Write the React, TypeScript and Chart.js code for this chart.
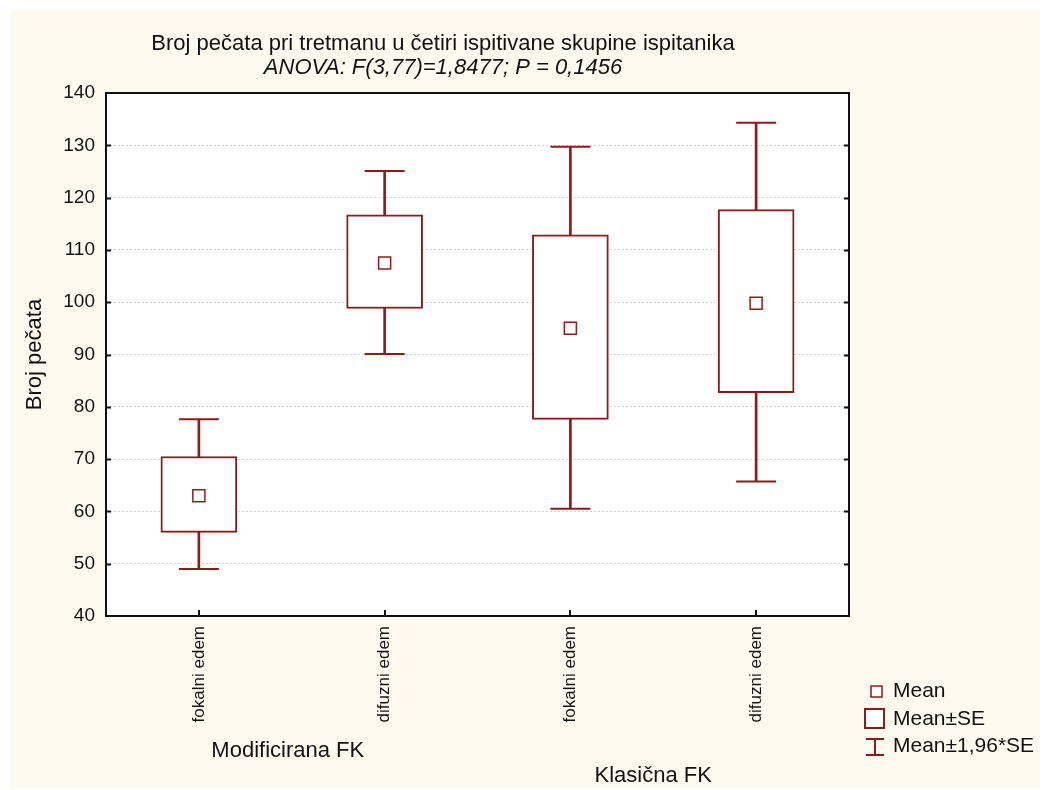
import React, { useEffect, useRef } from 'react';
import { Chart, registerables } from 'chart.js';

Chart.register(...registerables);

// ---- data ----
const categories = ['fokalni edem', 'difuzni edem', 'fokalni edem', 'difuzni edem'];
const groupLabels = ['Modificirana FK', 'Klasična FK'];
const means = [63.0, 107.5, 95.0, 99.8];
const seLow = [56.0, 98.8, 77.6, 82.7];
const seHigh = [70.5, 116.7, 112.9, 117.7];
const ciLow = [49.0, 90.1, 60.5, 65.7];
const ciHigh = [77.6, 125.1, 129.7, 134.3];
const yMin = 40;
const yMax = 140;
const yStep = 10;
const titleLine1 = 'Broj pečata pri tretmanu u četiri ispitivane skupine ispitanika';
const titleLine2 = 'ANOVA: F(3,77)=1,8477; P = 0,1456';
const yTitle = 'Broj pečata';
const legendLabels = ['Mean', 'Mean±SE', 'Mean±1,96*SE'];

const RED = '#8c1c1c';
const CREAM = '#fefaef';
const FONT = '"Liberation Sans", Arial, sans-serif';
const TXT = '#111111';

const decorPlugin = {
  id: 'decor',
  beforeDraw(chart: any) {
    const { ctx, chartArea: a, width, height } = chart;
    ctx.save();
    ctx.fillStyle = CREAM;
    ctx.fillRect(0, 0, width, height);
    ctx.fillStyle = '#ffffff';
    ctx.fillRect(a.left, a.top, a.right - a.left, a.bottom - a.top);
    ctx.restore();
  },
  afterDatasetsDraw(chart: any) {
    const { ctx, chartArea: a } = chart;
    const xs = chart.scales.x;
    const ys = chart.scales.y;
    ctx.save();
    ctx.strokeStyle = '#111111';
    ctx.lineWidth = 2;
    ctx.strokeRect(a.left, a.top, a.right - a.left, a.bottom - a.top);
    ctx.beginPath();
    ys.ticks.forEach((t: any) => {
      const y = Math.round(ys.getPixelForValue(t.value)) + 0.5;
      if (t.value === yMin || t.value === yMax) return;
      ctx.moveTo(a.left, y);
      ctx.lineTo(a.left + 5, y);
      ctx.moveTo(a.right, y);
      ctx.lineTo(a.right - 5, y);
    });
    categories.forEach((_c, i) => {
      const x = Math.round(xs.getPixelForValue(i));
      ctx.moveTo(x, a.bottom);
      ctx.lineTo(x, a.bottom - 6);
    });
    ctx.stroke();
    ctx.restore();
  },
  afterDraw(chart: any) {
    const { ctx, chartArea: a } = chart;
    const xs = chart.scales.x;
    ctx.save();
    ctx.fillStyle = TXT;
    ctx.textAlign = 'center';
    ctx.textBaseline = 'middle';
    ctx.font = `22px ${FONT}`;
    ctx.fillText(titleLine1, 433, 34);
    ctx.font = `italic 22px ${FONT}`;
    ctx.fillText(titleLine2, 433, 58);

    // y title
    ctx.font = `22px ${FONT}`;
    ctx.save();
    ctx.translate(25, (a.top + a.bottom) / 2);
    ctx.rotate(-Math.PI / 2);
    ctx.fillText(yTitle, 0, 0);
    ctx.restore();

    // group labels
    const gx0 = (xs.getPixelForValue(0) + xs.getPixelForValue(1)) / 2;
    const gx1 = (xs.getPixelForValue(2) + xs.getPixelForValue(3)) / 2;
    ctx.fillText(groupLabels[0], gx0 - 4, 741);
    ctx.fillText(groupLabels[1], gx1 - 10, 766);

    // legend
    ctx.strokeStyle = RED;
    ctx.fillStyle = '#ffffff';
    ctx.lineWidth = 1.5;
    ctx.fillRect(861, 676, 11, 11);
    ctx.strokeRect(861, 676, 11, 11);
    ctx.lineWidth = 2;
    ctx.fillRect(855, 699, 19, 19);
    ctx.strokeRect(855, 699, 19, 19);
    ctx.beginPath();
    ctx.moveTo(856, 729);
    ctx.lineTo(874, 729);
    ctx.moveTo(865, 729);
    ctx.lineTo(865, 745);
    ctx.moveTo(856, 745);
    ctx.lineTo(874, 745);
    ctx.stroke();
    ctx.fillStyle = TXT;
    ctx.textAlign = 'left';
    ctx.font = `21px ${FONT}`;
    ctx.fillText(legendLabels[0], 883, 681);
    ctx.fillText(legendLabels[1], 883, 709.5);
    ctx.fillText(legendLabels[2], 883, 736);
    ctx.restore();
  },
};

export default function App() {
  const ref = useRef<HTMLCanvasElement | null>(null);
  useEffect(() => {
    if (!ref.current) return;
    const chart = new Chart(ref.current, {
      type: 'bar',
      data: {
        labels: categories,
        datasets: [
          {
            type: 'bar',
            label: 'whisker',
            data: categories.map((_c, i) => [ciLow[i], ciHigh[i]]),
            backgroundColor: RED,
            borderWidth: 0,
            barThickness: 2,
            grouped: false,
            order: 5,
          } as any,
          {
            type: 'bar',
            label: 'box',
            data: categories.map((_c, i) => [seLow[i], seHigh[i]]),
            backgroundColor: '#ffffff',
            borderColor: RED,
            borderWidth: 2,
            borderSkipped: false,
            barThickness: 76,
            grouped: false,
            order: 4,
          } as any,
          {
            type: 'line',
            label: 'capHigh',
            data: ciHigh,
            showLine: false,
            pointStyle: 'line',
            pointRadius: 20,
            pointBorderWidth: 2,
            pointBorderColor: RED,
            order: 2,
          } as any,
          {
            type: 'line',
            label: 'capLow',
            data: ciLow,
            showLine: false,
            pointStyle: 'line',
            pointRadius: 20,
            pointBorderWidth: 2,
            pointBorderColor: RED,
            order: 2,
          } as any,
          {
            type: 'line',
            label: 'mean',
            data: means,
            showLine: false,
            pointStyle: 'rect',
            pointRadius: 8.5,
            pointBackgroundColor: '#ffffff',
            pointBorderColor: RED,
            pointBorderWidth: 1.5,
            order: 1,
          } as any,
        ],
      },
      options: {
        animation: false,
        responsive: false,
        events: [],
        layout: { padding: { top: 83, right: 191, left: 0, bottom: 0 } },
        plugins: { legend: { display: false }, tooltip: { enabled: false }, title: { display: false } },
        scales: {
          x: {
            offset: true,
            grid: { display: false, drawTicks: false },
            border: { display: false },
            ticks: {
              autoSkip: false,
              maxRotation: 90,
              minRotation: 90,
              padding: 10,
              color: TXT,
              font: { family: FONT, size: 17 },
            },
            afterFit: (s: any) => { s.height = 172; },
          },
          y: {
            min: yMin,
            max: yMax,
            grid: { color: '#d2d2d2', lineWidth: 1, drawTicks: false },
            border: { display: false, dash: [2, 2] },
            ticks: {
              stepSize: yStep,
              autoSkip: false,
              padding: 11,
              color: TXT,
              font: { family: FONT, size: 19 },
            },
            afterFit: (s: any) => { s.width = 96; },
          },
        },
      } as any,
      plugins: [decorPlugin],
    });
    return () => chart.destroy();
  }, []);
  return (
    <div style={{ position: 'absolute', left: 10, top: 10, width: 1030, height: 778 }}>
      <canvas ref={ref} width={1030} height={778} style={{ width: 1030, height: 778 }} />
    </div>
  );
}
